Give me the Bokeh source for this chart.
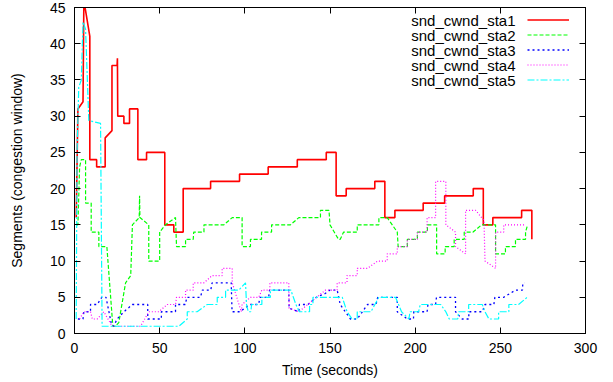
from bokeh.plotting import figure
from bokeh.models import (Range1d, LinearAxis, FixedTicker, Legend, LegendItem, Label,
                          ColumnDataSource, CustomJSTickFormatter)
from bokeh.core.properties import value
from bokeh.embed import file_html
from bokeh.resources import INLINE

# ---- data: (time in seconds, congestion window in segments) ----
sta1 = [(1, 16), (2, 31), (5, 32), (5.5, 46), (9, 41), (9, 24), (13, 24), (13, 23), (18, 23), (18, 27),
        (22, 28), (22, 37), (25, 37), (25.2, 38), (25.4, 30), (29, 30), (29, 29), (32.3, 29), (32.3, 31),
        (37.2, 31), (37.2, 24), (42.3, 24), (42.3, 25), (53, 25), (53, 15), (58.3, 15), (58.3, 14),
        (63.8, 14), (63.8, 20), (79.9, 20), (79.9, 21), (96.9, 21), (96.9, 22), (113.7, 22), (113.7, 23),
        (130.8, 23), (130.8, 24), (147.8, 24), (147.8, 25), (153.6, 25), (153.6, 19), (159.5, 19),
        (159.5, 20), (176.3, 20), (176.3, 21), (182.2, 21), (182.2, 16), (188.1, 16), (188.1, 17),
        (204.7, 17), (204.7, 18), (217.3, 18), (217.3, 19), (234.1, 19), (234.1, 20), (240, 20), (240, 15),
        (245.6, 15), (245.6, 16), (262.5, 16), (262.5, 17), (268.5, 17), (268.5, 13)]

sta2 = [(1, 15), (2, 15), (3, 23), (4, 24), (6.5, 24), (6.5, 18), (9.8, 18), (9.8, 14), (14.3, 14),
        (14.3, 12), (19, 12), (22.5, 1), (24, 1), (26, 1.5), (30, 7), (33, 8), (34, 15), (38, 16),
        (38.2, 19), (38.4, 16), (43.6, 15), (43.6, 10), (50, 10), (50, 14), (53.4, 15), (59.3, 16),
        (59.9, 12), (65.2, 12), (65.2, 13), (69.7, 13), (70, 14), (76, 14), (76, 15), (87.7, 15),
        (92.6, 16), (98.4, 16), (98.4, 12), (103.3, 12), (103.3, 13), (109.8, 13), (109.8, 14),
        (115.7, 14), (115.7, 15), (126.8, 15), (131.7, 16), (144.4, 16), (144.4, 17), (149.4, 17),
        (150, 15), (155, 13), (156, 13), (158, 14), (166, 14), (166, 15), (178.7, 15), (178.7, 16),
        (183.6, 16), (189.5, 14), (190, 12), (195.4, 12), (195.4, 13), (201.3, 13), (201.3, 14),
        (207.2, 14), (207.2, 15), (212.6, 15), (212.6, 11), (217.6, 11), (217.6, 12), (222.9, 12),
        (222.9, 13), (228.8, 13), (228.8, 14), (234, 14), (239, 15), (247.2, 15), (247.2, 11), (253, 11),
        (253, 12), (258.9, 12), (258.9, 13), (264.8, 13), (264.8, 14), (266, 15)]

sta3 = [(2, 2), (5, 2), (5.5, 3), (9.4, 3), (9.4, 4), (13.3, 4), (16, 5), (18.5, 5), (21.5, 1.5), (23, 1),
        (25, 2), (29, 3), (34, 4), (43, 4), (43, 2), (51, 2), (51, 3), (59.3, 3), (59.3, 4), (65, 4),
        (66, 5), (74, 5), (75, 6), (80, 6), (80.8, 7), (92, 7), (92.5, 3), (97, 3), (103, 4), (108, 4),
        (109, 5), (114, 5), (114.5, 6), (125.8, 6), (126, 3.5), (131.7, 3), (132, 4), (137, 4), (142, 5),
        (147, 5.5), (150, 6), (154.2, 6), (156, 4), (159, 3), (162, 2), (166, 2), (169, 3), (172, 4),
        (177, 4), (178, 5), (189.5, 5), (189.5, 3), (195.4, 2), (199, 2), (199.2, 3), (207, 3), (207.5, 4),
        (212, 4), (212.5, 5), (223.7, 5), (223.7, 3), (227.6, 2), (231.5, 2), (231.5, 3), (239.4, 3),
        (241, 4), (246.2, 4), (246.8, 5), (252, 5), (259, 6), (263, 6), (263.2, 7), (264, 7)]

sta4 = [(3, 2), (5.5, 3), (9.4, 3), (10.5, 2), (13.3, 2), (17.2, 3), (22.1, 1), (38.8, 1), (43.6, 3),
        (49.5, 3), (54.4, 4), (59.3, 4), (59.9, 5), (65.2, 5), (65.2, 6), (69.7, 6), (69.7, 7), (76, 7),
        (80.8, 8), (86.7, 8), (86.7, 9), (92.6, 9), (92.6, 7), (97.9, 3), (98.4, 4), (103.3, 5),
        (108.2, 5), (110, 6), (114.7, 6), (114.7, 7), (125.8, 7), (126, 3.5), (131.7, 3), (147.4, 6),
        (154.2, 6), (154.2, 7), (160, 7), (160, 8), (166, 8), (166, 9), (172, 9), (178, 10), (183.6, 10),
        (183.6, 11), (189.5, 11), (189.5, 12), (195.4, 12), (195.4, 13), (201.3, 13), (201.3, 14),
        (207, 14), (207, 16), (212, 16), (212, 21), (218, 21), (218, 15), (223.7, 14), (223.7, 12),
        (229.6, 11), (229.6, 17), (235.5, 17), (240.4, 15.6), (241, 10), (247.2, 9), (247.2, 14),
        (252, 14), (252, 15), (264, 15)]

sta5 = [(1, 2), (1.5, 25), (2.5, 34), (4, 35), (5, 43), (6.5, 42), (8.4, 29.4), (15.3, 29), (16.2, 1),
        (61.3, 1), (66.2, 2), (66.2, 3), (72, 3), (77.9, 4), (83.8, 4), (83.8, 5), (88.7, 5), (88.7, 6),
        (96.5, 6), (100.4, 7), (101, 4), (102, 3), (103.5, 3), (104, 4), (110, 4), (110, 5), (115, 5),
        (115, 6), (127, 6), (130, 4), (132, 3), (138, 3), (138, 4), (140, 4), (140, 5), (157.2, 5),
        (160, 3), (163, 2), (166, 2), (166, 3), (174, 3), (178.7, 5), (188.5, 5), (192, 3), (196.3, 2),
        (197, 3), (202, 3), (203, 4), (215, 4), (218, 3), (220, 2), (225, 2), (225.5, 3), (231.4, 3),
        (231.4, 4), (239.4, 4), (241, 3), (243.3, 2), (249, 2), (249, 3), (255, 3), (255, 4), (260.7, 4),
        (265.8, 5)]

series_names = ["snd_cwnd_sta1", "snd_cwnd_sta2", "snd_cwnd_sta3", "snd_cwnd_sta4", "snd_cwnd_sta5"]
x_ticks = [0, 50, 100, 150, 200, 250, 300]
y_ticks = [0, 5, 10, 15, 20, 25, 30, 35, 40, 45]

# ---- styles ----
colors = ["#ff0000", "#00ff00", "#0000ff", "#ff00ff", "#00ffff"]
dashes = ["solid", "4 2", "2 3", "1 2", "7 2 2 2"]
widths = [1.6, 1.2, 1.3, 1.2, 1.2]
FONT = "Liberation Sans"

p = figure(width=613, height=382, output_backend="svg", toolbar_location=None,
           x_range=Range1d(0, 300), y_range=Range1d(0, 45),
           min_border_left=74, min_border_right=28, min_border_top=7, min_border_bottom=49,
           background_fill_color="white", border_fill_color="white")
p.xgrid.grid_line_color = None
p.ygrid.grid_line_color = None
p.outline_line_color = "black"
p.outline_line_width = 1

p.xaxis.ticker = FixedTicker(ticks=x_ticks)
p.yaxis.ticker = FixedTicker(ticks=y_ticks)
p.xaxis.axis_label = "Time (seconds)"
p.yaxis.axis_label = "Segments (congestion window)"
for ax in (p.xaxis[0], p.yaxis[0]):
    ax.axis_line_color = "black"
    ax.major_tick_in = 6
    ax.major_tick_out = 0
    ax.minor_tick_line_color = None
    ax.major_tick_line_color = "black"
    ax.major_label_text_font = FONT
    ax.major_label_text_font_size = "14px"
    ax.major_label_text_color = "black"
    ax.axis_label_text_font = FONT
    ax.axis_label_text_font_size = "14px"
    ax.axis_label_text_font_style = "normal"
    ax.axis_label_text_color = "black"
p.xaxis.major_label_standoff = 9
p.xaxis.axis_label_standoff = 6
p.yaxis.major_label_standoff = 9
p.yaxis.axis_label_standoff = 22

# mirrored ticks on top and right
for loc, ticks in (("above", x_ticks), ("right", y_ticks)):
    ax = LinearAxis(ticker=FixedTicker(ticks=ticks),
                    formatter=CustomJSTickFormatter(code="return ''"),
                    major_tick_in=6, major_tick_out=0, minor_tick_line_color=None,
                    major_label_standoff=0, axis_line_color="black",
                    major_label_text_font_size="1px")
    p.add_layout(ax, loc)

renderers = []
for data, c, d, w in zip([sta1, sta2, sta3, sta4, sta5], colors, dashes, widths):
    src = ColumnDataSource(data=dict(t=[a for a, b in data], v=[b for a, b in data]))
    r = p.line("t", "v", source=src, line_color=c, line_dash=d, line_width=w)
    renderers.append(r)

legend = Legend(items=[LegendItem(label=value(" "), renderers=[r]) for r in renderers],
                location="top_right", orientation="vertical", glyph_width=42, glyph_height=15,
                label_height=15, label_width=0, spacing=0, padding=0, margin=5, label_standoff=11,
                border_line_color=None, background_fill_alpha=0, label_text_font_size="14px")
p.add_layout(legend)

for i, name in enumerate(series_names):
    p.add_layout(Label(x=441, y=326 - 12.5 - 15 * i, x_units="screen", y_units="screen",
                       text=name, text_align="right", text_baseline="middle",
                       text_font=FONT, text_font_size="15px", text_color="black"))

open("out.html", "w").write(file_html(p, INLINE))
